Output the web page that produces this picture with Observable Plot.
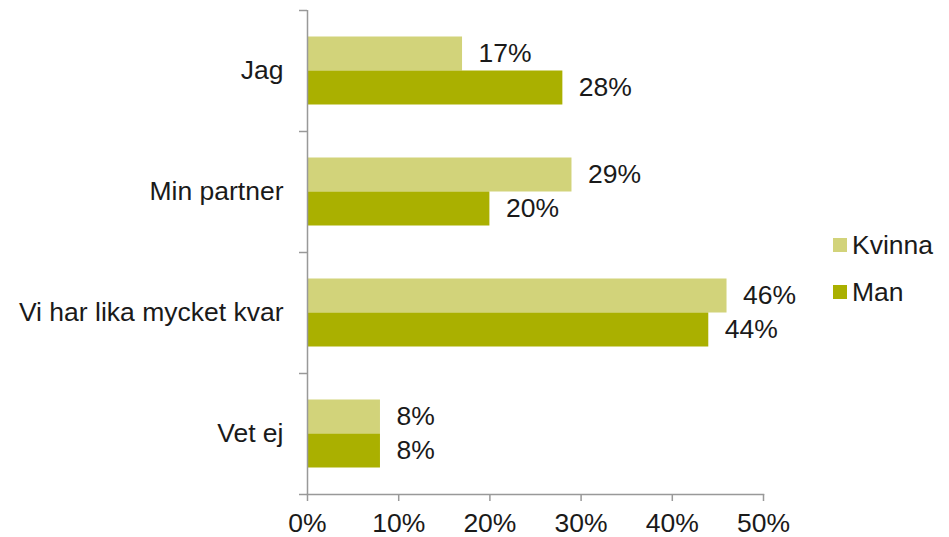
<!DOCTYPE html>
<html><head><meta charset="utf-8">
<script src="https://cdn.jsdelivr.net/npm/d3@7"></script>
<script src="https://cdn.jsdelivr.net/npm/@observablehq/plot@0.6"></script>
<style>
html,body{margin:0;padding:0;background:#fff;}
#wrap{position:relative;width:949px;height:537px;font-family:"Liberation Sans",Arial,sans-serif;color:#1a1a1a;}
.item{position:absolute;left:833px;height:14px;display:flex;align-items:center;font-size:26.5px;white-space:nowrap;}
.sw{width:14px;height:14px;margin-right:5px;flex:none;}
</style></head>
<body><div id="wrap"></div>
<script>
const categories = ["Jag", "Min partner", "Vi har lika mycket kvar", "Vet ej"];
const series = ["Kvinna", "Man"];
const kvinna = [17, 29, 46, 8];
const man = [28, 20, 44, 8];
const xTicks = [0, 10, 20, 30, 40, 50];
const colors = ["#d2d37a", "#aab000"];
const gray = "#999999";

const kData = categories.map((c, i) => ({category: c, series: series[0], value: kvinna[i]}));
const mData = categories.map((c, i) => ({category: c, series: series[1], value: man[i]}));

const chart = Plot.plot({
  width: 949, height: 537,
  marginLeft: 307, marginRight: 186, marginTop: 10, marginBottom: 43,
  style: {fontFamily: '"Liberation Sans", Arial, sans-serif', fontSize: "26.5px", color: "#1a1a1a", background: "#fff"},
  x: {domain: [0, 50]},
  y: {domain: categories, padding: 0},
  marks: [
    Plot.barX(kData, {x: "value", y: "category", fill: colors[0], insetTop: 26.5, insetBottom: 60.5}),
    Plot.barX(mData, {x: "value", y: "category", fill: colors[1], insetTop: 60.5, insetBottom: 26.5}),
    Plot.text(kData, {x: "value", y: "category", text: d => d.value + "%", dx: 16, dy: -17, textAnchor: "start", fontSize: 26.5, fill: "#1a1a1a"}),
    Plot.text(mData, {x: "value", y: "category", text: d => d.value + "%", dx: 16, dy: 17, textAnchor: "start", fontSize: 26.5, fill: "#1a1a1a"}),
    Plot.ruleX([0], {stroke: gray, strokeWidth: 1.5}),
    Plot.frame({anchor: "bottom", stroke: gray, strokeWidth: 1.5}),
    Plot.axisY({tickSize: 0, tickPadding: 24, fontSize: 26.5, label: null}),
    Plot.axisY({tickSize: 8, tickFormat: () => "", dy: -60.5, stroke: gray, strokeWidth: 1.5, label: null}),
    Plot.axisY({ticks: [categories[3]], tickSize: 8, tickFormat: () => "", dy: 60.5, stroke: gray, strokeWidth: 1.5, label: null}),
    Plot.axisX({ticks: xTicks, tickSize: 7, tickPadding: 12, tickFormat: d => d + "%", stroke: gray, strokeWidth: 1.5, fontSize: 26.5, label: null})
  ]
});
const wrap = document.getElementById("wrap");
wrap.appendChild(chart);
const tops = [238, 285];
series.forEach((s, i) => {
  const it = document.createElement("div");
  it.className = "item";
  it.style.top = tops[i] + "px";
  it.innerHTML = `<span class="sw" style="background:${colors[i]}"></span><span>${s}</span>`;
  wrap.appendChild(it);
});
</script></body></html>
